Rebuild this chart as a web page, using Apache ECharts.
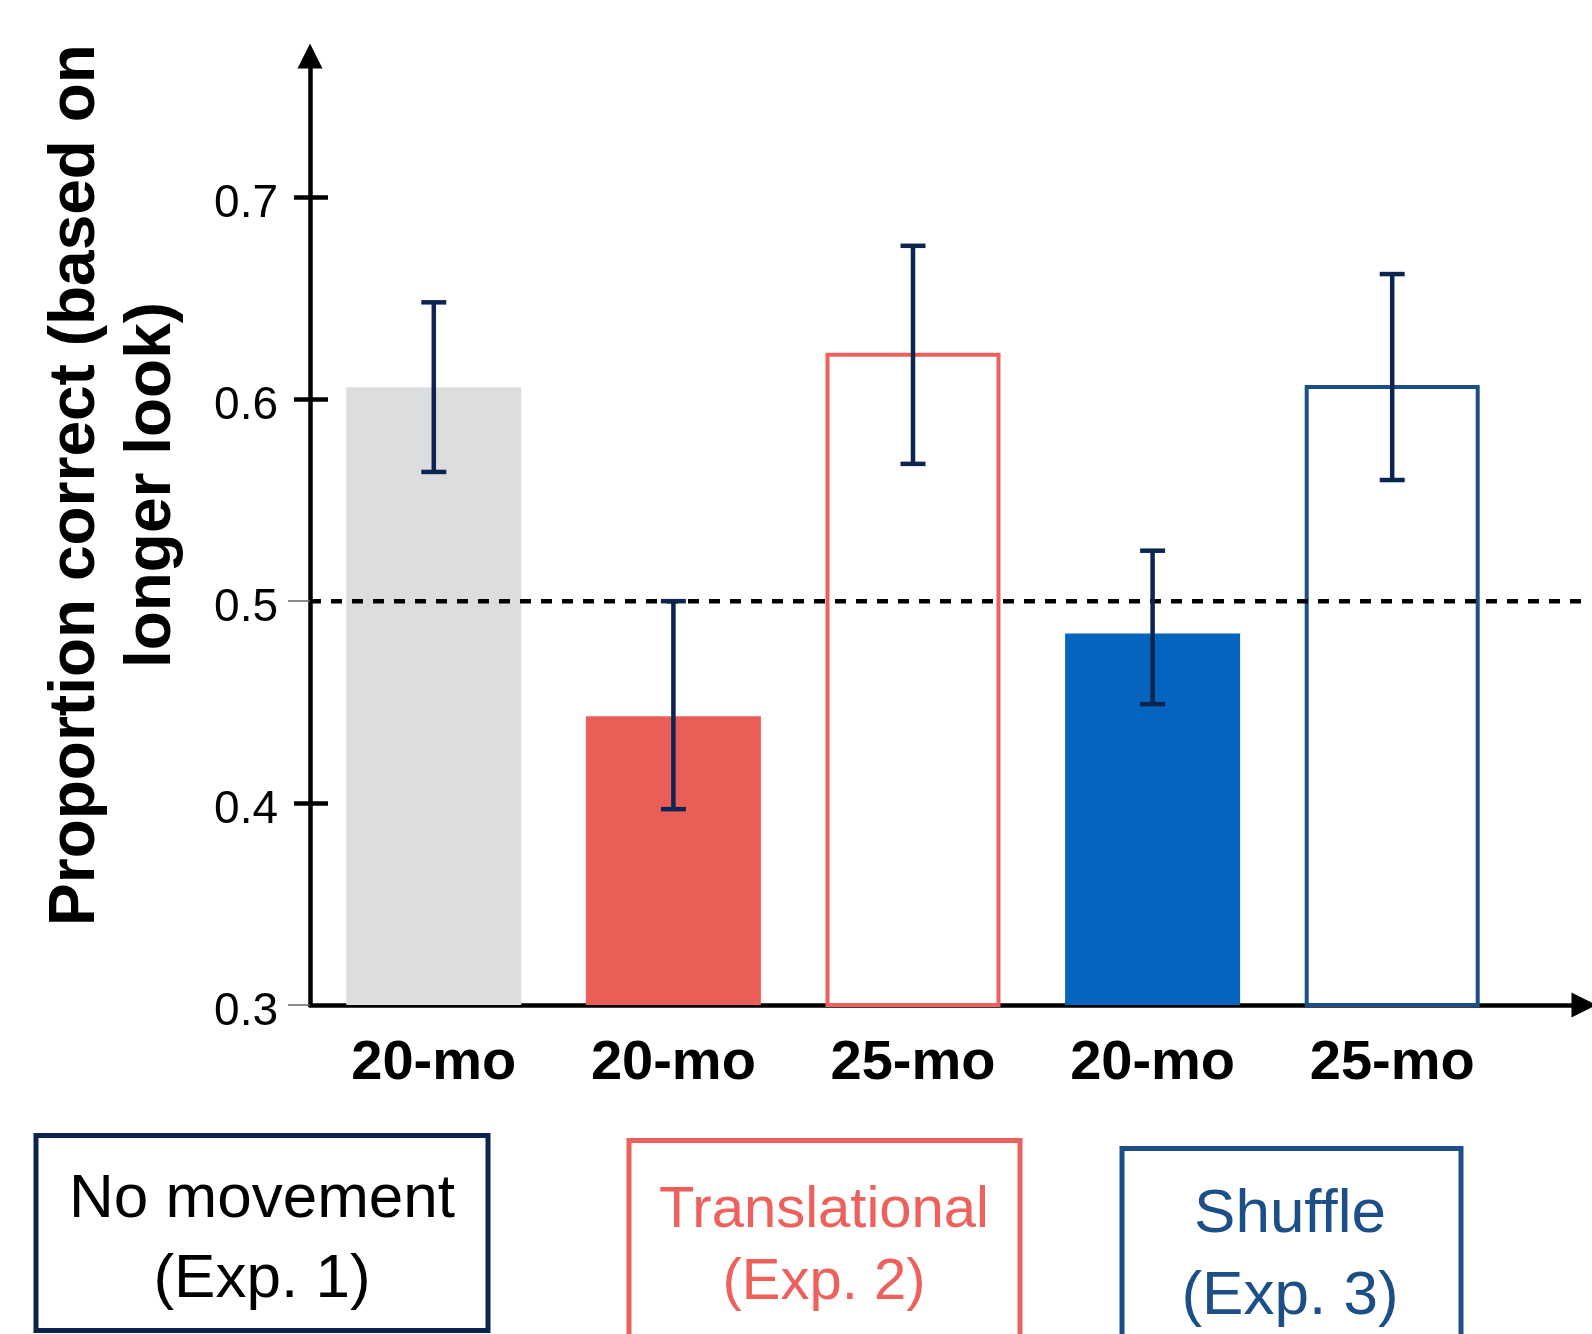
<!DOCTYPE html>
<html><head><meta charset="utf-8">
<script src="https://cdn.jsdelivr.net/npm/echarts@6/dist/echarts.min.js"></script>
<style>html,body{margin:0;padding:0;background:#fff}#c{width:1592px;height:1334px}</style>
</head><body><div id="c"></div>
<script>
// ---- data ----
const categories = ['20-mo', '20-mo', '25-mo', '20-mo', '25-mo'];
const means   = [0.606, 0.443, 0.623, 0.484, 0.607];
const errLow  = [0.564, 0.397, 0.568, 0.449, 0.560];
const errHigh = [0.648, 0.500, 0.676, 0.525, 0.662];
const tickValues = [0.3, 0.4, 0.5, 0.6, 0.7];
const majorTickValues = [0.4, 0.6, 0.7];
const minorTickValues = [0.3, 0.5];
const chanceLevel = 0.5;
const groupLabels = ['No movement\n(Exp. 1)', 'Translational\n(Exp. 2)', 'Shuffle\n(Exp. 3)'];
const yTitle = 'Proportion correct (based on\nlonger look)';

// ---- styles ----
const FONT = "'Liberation Sans', Arial, Helvetica, sans-serif";
const barStyles = [
  { color: '#DCDDDF' },
  { color: '#EB5E58' },
  { color: '#FFFFFF', borderColor: '#EE605B', borderWidth: 4 },
  { color: '#0565BE' },
  { color: '#FFFFFF', borderColor: '#1C4F87', borderWidth: 4 }
];
const errColor = '#0B2550';
const groupColors = ['#0B2550', '#EE605B', '#1C4F87'];
const groupTextColors = ['#000000', '#EE605B', '#1C4F87'];
const groupBoxes = [
  { x: 36, y: 1135.5, w: 452, h: 195, tx: 262, ty: 1240, fs: 62, lh: 80 },
  { x: 629, y: 1140.5, w: 391, h: 260, tx: 824, ty: 1247, fs: 58, lh: 72 },
  { x: 1122, y: 1148.5, w: 339, h: 260, tx: 1290, ty: 1256, fs: 62, lh: 82 }
];

const Y_MIN = 0.3, Y_MAX = 0.77;

const chart = echarts.init(document.getElementById('c'), null, { renderer: 'canvas' });

const graphics = [];
groupBoxes.forEach((b, i) => {
  graphics.push({
    type: 'rect', shape: { x: b.x, y: b.y, width: b.w, height: b.h },
    style: { fill: 'none', stroke: groupColors[i], lineWidth: 5 }, silent: true
  });
  graphics.push({
    type: 'text', x: b.tx, y: b.ty,
    style: {
      text: groupLabels[i], fill: groupTextColors[i], fontSize: b.fs, fontFamily: FONT,
      lineHeight: b.lh, align: 'center', verticalAlign: 'middle',
      textAlign: 'center', textVerticalAlign: 'middle'
    }, silent: true
  });
});

const option = {
  animation: false,
  backgroundColor: '#ffffff',
  grid: [
    { left: 314, width: 1198, top: 56, bottom: 329, containLabel: false },
    { left: 310, right: 8, top: 56, bottom: 329, containLabel: false }
  ],
  xAxis: [
    {
      type: 'category', gridIndex: 0, data: categories,
      axisLine: { show: false }, axisTick: { show: false },
      axisLabel: { fontSize: 56, fontWeight: 'bold', color: '#000', fontFamily: FONT, margin: 31 },
      splitLine: { show: false }
    },
    {
      type: 'value', gridIndex: 1, min: 0, max: 1,
      axisLine: { show: true, onZero: false, symbol: ['none', 'triangle'], symbolSize: [25, 25],
                  lineStyle: { color: '#000', width: 4.5 } },
      axisTick: { show: false }, axisLabel: { show: false }, splitLine: { show: false }
    }
  ],
  yAxis: [
    {
      type: 'value', gridIndex: 0, min: Y_MIN, max: Y_MAX, offset: 4, position: 'left',
      axisLine: { show: true, symbol: ['none', 'triangle'], symbolSize: [25, 25],
                  lineStyle: { color: '#000', width: 4.5 } },
      axisTick: { show: true, customValues: majorTickValues, length: 16, lineStyle: { color: '#000', width: 4.5 } },
      axisLabel: { customValues: tickValues, fontSize: 46, color: '#000', fontFamily: FONT, margin: 32,
                   formatter: '{v|{value}}', rich: { v: { fontSize: 46, color: '#000', fontFamily: FONT, padding: [14, 0, 0, 0] } } },
      splitLine: { show: false },
      name: yTitle, nameLocation: 'middle', nameRotate: 90, nameGap: 120,
      nameTextStyle: { fontSize: 64, fontWeight: 'bold', color: '#000', fontFamily: FONT,
                       lineHeight: 76, padding: [0, 0, 0, 91] }
    },
    {
      type: 'value', gridIndex: 1, min: Y_MIN, max: Y_MAX, position: 'left',
      axisLine: { show: false }, axisLabel: { show: false }, splitLine: { show: false },
      axisTick: { show: true, inside: true, customValues: majorTickValues, length: 18,
                  lineStyle: { color: '#000', width: 4.5 } }
    },
    {
      type: 'value', gridIndex: 0, min: Y_MIN, max: Y_MAX, offset: 4, position: 'left',
      axisLine: { show: false }, axisLabel: { show: false }, splitLine: { show: false },
      axisTick: { show: true, customValues: minorTickValues, length: 22,
                  lineStyle: { color: '#666', width: 1.5 } }
    }
  ],
  series: [
    {
      type: 'bar', xAxisIndex: 0, yAxisIndex: 0, barWidth: 175,
      data: means.map((v, i) => ({ value: v, itemStyle: barStyles[i] })),
      z: 2
    },
    {
      type: 'line', xAxisIndex: 1, yAxisIndex: 1, symbol: 'none', silent: true,
      data: [[0, chanceLevel], [1, chanceLevel]],
      lineStyle: { color: '#000', width: 4.5, type: [11, 10] },
      z: 4
    },
    {
      type: 'custom', xAxisIndex: 0, yAxisIndex: 0, silent: true,
      data: errLow.map((l, i) => [i, l, errHigh[i]]),
      encode: { x: 0, y: [1, 2] },
      renderItem: function (params, api) {
        const lo = api.coord([api.value(0), api.value(1)]);
        const hi = api.coord([api.value(0), api.value(2)]);
        const hw = 12.5;
        const st = { stroke: errColor, lineWidth: 4.5 };
        return {
          type: 'group', children: [
            { type: 'line', shape: { x1: hi[0], y1: hi[1], x2: lo[0], y2: lo[1] }, style: st },
            { type: 'line', shape: { x1: hi[0] - hw, y1: hi[1], x2: hi[0] + hw, y2: hi[1] }, style: st },
            { type: 'line', shape: { x1: lo[0] - hw, y1: lo[1], x2: lo[0] + hw, y2: lo[1] }, style: st }
          ]
        };
      },
      z: 5
    }
  ],
  graphic: graphics
};
chart.setOption(option);
</script>
</body></html>
